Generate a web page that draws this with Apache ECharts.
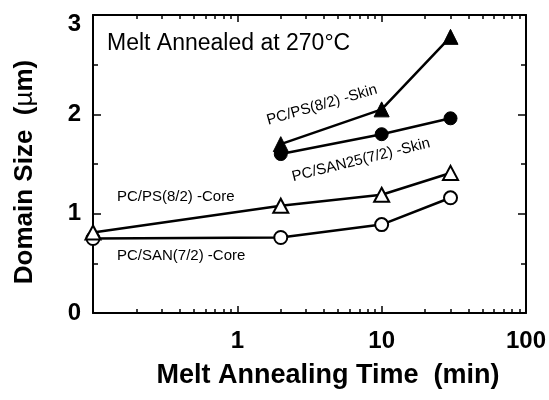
<!DOCTYPE html>
<html>
<head>
<meta charset="utf-8">
<script src="https://cdn.jsdelivr.net/npm/echarts@6/dist/echarts.min.js"></script>
<style>
html,body{margin:0;padding:0;background:#fff;}
#chart{width:549px;height:400px;}
</style>
</head>
<body>
<div id="chart"></div>
<script>
// ---- data ----
const coreTimes = [0.1, 2, 10, 30];
const skinTimes = [2, 10, 30];
const psCore = [0.81, 1.08, 1.19, 1.41];
const sanCore = [0.75, 0.76, 0.89, 1.16];
const psSkin = [1.70, 2.05, 2.78];
const sanSkin = [1.60, 1.80, 1.96];
const xMajorTicks = [0.1, 1, 10, 100];
const xTickLabels = [1, 10, 100];
const xMinorTicks = [0.2,0.3,0.4,0.5,0.6,0.7,0.8,0.9,2,3,4,5,6,7,8,9,20,30,40,50,60,70,80,90];
const yTickLabels = [0, 1, 2, 3];

const FONT = '"Liberation Sans", Arial, Helvetica, sans-serif';
const BLACK = '#000';

function pairs(xs, ys){ return xs.map((x,i)=>[x, ys[i]]); }

const chart = echarts.init(document.getElementById('chart'), null, {renderer:'canvas'});

function xAxisDef(pos, ticks, len, showLine, labels){
  return {
    type:'log', logBase:10, min:0.1, max:100, position:pos,
    axisLine:{show:showLine, onZero:false, lineStyle:{color:BLACK, width:2}},
    axisTick:{show:true, inside:true, length:len, customValues:ticks, lineStyle:{color:BLACK, width:1.5}},
    minorTick:{show:false},
    splitLine:{show:false},
    axisLabel: labels ? {show:true, customValues:labels, margin:16, color:BLACK,
      fontFamily:FONT, fontWeight:'bold', fontSize:24, formatter:v=>String(v)} : {show:false}
  };
}
function yAxisDef(pos, labels){
  return {
    type:'value', min:0, max:3, interval:1, position:pos,
    axisLine:{show:true, onZero:false, lineStyle:{color:BLACK, width:2}},
    axisTick:{show:true, inside:true, length:8, lineStyle:{color:BLACK, width:1.5}},
    minorTick:{show:true, splitNumber:2, length:5, lineStyle:{color:BLACK, width:1.5}},
    splitLine:{show:false},
    axisLabel: labels ? {show:true, margin:12, color:BLACK, fontFamily:FONT, fontWeight:'bold', fontSize:24,
      formatter: v => (yTickLabels.indexOf(v) < 0 ? '' : (v === 3 ? '{t|3}' : String(v))),
      rich:{t:{fontFamily:FONT, fontWeight:'bold', fontSize:24, color:BLACK, padding:[18,0,0,0]}}
    } : {show:false}
  };
}

const lineBase = {
  type:'line', xAxisIndex:0, yAxisIndex:0, clip:false, silent:true,
  lineStyle:{color:BLACK, width:2.5}
};
const openStyle = {color:'#fff', borderColor:BLACK, borderWidth:2};
const fillStyle = {color:BLACK, borderColor:BLACK, borderWidth:1};

const option = {
  animation:false,
  backgroundColor:'#fff',
  grid:{left:93, right:20, top:15, bottom:87, containLabel:false},
  xAxis:[
    xAxisDef('bottom', xMajorTicks, 7, true, xTickLabels),
    xAxisDef('bottom', xMinorTicks, 4, false, null),
    xAxisDef('top', xMajorTicks, 7, true, null),
    xAxisDef('top', xMinorTicks, 4, false, null)
  ],
  yAxis:[ yAxisDef('left', true), yAxisDef('right', false) ],
  series:[
    Object.assign({}, lineBase, {name:'PC/SAN(7/2) -Core', data:pairs(coreTimes, sanCore),
      symbol:'circle', symbolSize:13, itemStyle:openStyle}),
    Object.assign({}, lineBase, {name:'PC/PS(8/2) -Core', data:pairs(coreTimes, psCore),
      symbol:'triangle', symbolSize:[15,14], itemStyle:openStyle}),
    Object.assign({}, lineBase, {name:'PC/SAN25(7/2) -Skin', data:pairs(skinTimes, sanSkin),
      symbol:'circle', symbolSize:13, itemStyle:fillStyle}),
    Object.assign({}, lineBase, {name:'PC/PS(8/2) -Skin', data:pairs(skinTimes, psSkin),
      symbol:'triangle', symbolSize:[15,15], itemStyle:fillStyle})
  ],
  graphic:[
    {type:'text', x:328, y:376, silent:true,
      style:{text:'Melt Annealing Time  (min)', fill:BLACK, font:'bold 27px '+FONT, align:'center', verticalAlign:'middle'}},
    {type:'text', x:25, y:172, rotation:Math.PI/2, silent:true,
      style:{text:'{b|Domain Size  (}{m|µ}{b|m)}', fill:BLACK, align:'center', verticalAlign:'middle',
        rich:{b:{font:'bold 26px '+FONT, fill:BLACK}, m:{font:'26px '+FONT, fill:BLACK}}}},
    {type:'text', x:107, y:44, silent:true,
      style:{text:'Melt Annealed at 270°C', fill:BLACK, font:'23px '+FONT, align:'left', verticalAlign:'middle'}},
    {type:'text', x:322, y:105, rotation:16*Math.PI/180, silent:true,
      style:{text:'PC/PS(8/2) -Skin', fill:BLACK, font:'15px '+FONT, align:'center', verticalAlign:'middle'}},
    {type:'text', x:361, y:160, rotation:14*Math.PI/180, silent:true,
      style:{text:'PC/SAN25(7/2) -Skin', fill:BLACK, font:'15px '+FONT, align:'center', verticalAlign:'middle'}},
    {type:'text', x:117, y:197, silent:true,
      style:{text:'PC/PS(8/2) -Core', fill:BLACK, font:'15px '+FONT, align:'left', verticalAlign:'middle'}},
    {type:'text', x:117, y:256, silent:true,
      style:{text:'PC/SAN(7/2) -Core', fill:BLACK, font:'15px '+FONT, align:'left', verticalAlign:'middle'}}
  ]
};
chart.setOption(option);
</script>
</body>
</html>
